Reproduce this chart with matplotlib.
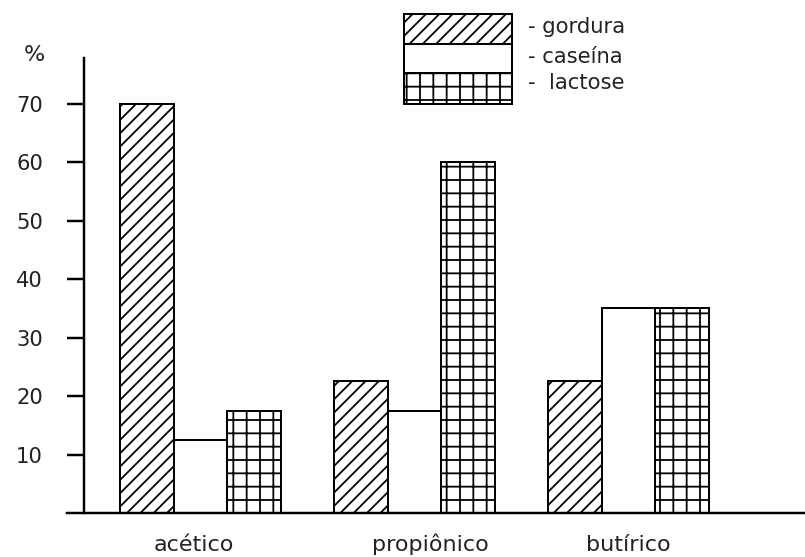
import matplotlib
matplotlib.use("Agg")
import matplotlib.pyplot as plt
from matplotlib.patches import Rectangle
import matplotlib.transforms as mtransforms
import numpy as np

categories = ["acético", "propiônico", "butírico"]
gordura = [70, 22.5, 22.5]
caseina = [12.5, 17.5, 35]
lactose = [17.5, 60, 35]
yticks = [10, 20, 30, 40, 50, 60, 70]
legend_labels = ["- gordura", "- caseína", "-  lactose"]

DPI = 80
W, H = 805, 557
plt.rcParams['font.family'] = ['DejaVu Sans']
plt.rcParams['hatch.linewidth'] = 1.6
plt.rcParams['hatch.color'] = 'black'

fig = plt.figure(figsize=(W / DPI, H / DPI), dpi=DPI)
fig.patch.set_facecolor('white')

def fx(px):
    return px / W

def fy(py):
    return 1 - py / H

ax = fig.add_axes([fx(67), fy(513), fx(805) - fx(67), fy(58) - fy(513)])
x = np.arange(len(categories))
w = 0.252
lw = 1.8
ax.bar(x - w, gordura, w, facecolor='white', edgecolor='black', hatch='//', linewidth=lw)
ax.bar(x, caseina, w, facecolor='white', edgecolor='black', linewidth=lw)
ax.bar(x + w, lactose, w, facecolor='white', edgecolor='black', hatch='+', linewidth=lw)

ax.set_xlim(-0.624, 2.825)
ax.set_ylim(0, 77.8)
ax.spines['top'].set_visible(False)
ax.spines['right'].set_visible(False)
ax.spines['left'].set_position(('data', -0.544))
ax.spines['left'].set_linewidth(2.2)
ax.spines['bottom'].set_linewidth(2.2)

ax.set_yticks(yticks)
ax.set_yticklabels([str(v) for v in yticks], fontsize=19, color='#222222')
ax.tick_params(axis='y', direction='out', length=15, width=2.2, pad=22)
ax.set_xticks(x)
ax.set_xticklabels(categories, fontsize=20, color='#222222')
ax.tick_params(axis='x', length=0, pad=34)

# small horizontal nudges of category labels (in pixels) as in the reference
label_shift_px = [-7, 16, 0]
for lab, dx in zip(ax.get_xticklabels(), label_shift_px):
    lab.set_verticalalignment('baseline')
    lab.set_transform(lab.get_transform() +
                      mtransforms.ScaledTranslation(dx / DPI, 0, fig.dpi_scale_trans))

fig.text(fx(34), fy(55), "%", fontsize=20, ha='center', va='center', color='#222222')

# legend box
lx0, lx1 = 404, 512
rows = [(14, 44, '//'), (44, 73, None), (73, 104, '+')]
for (y0, y1, h) in rows:
    r = Rectangle((fx(lx0), fy(y1)), fx(lx1) - fx(lx0), fy(y0) - fy(y1),
                  transform=fig.transFigure, facecolor='white', edgecolor='black',
                  linewidth=1.8, hatch=h)
    fig.add_artist(r)
for lab, yc in zip(legend_labels, [27, 57, 83]):
    fig.text(fx(528), fy(yc), lab, fontsize=19, ha='left', va='center', color='#222222')

fig.savefig("out.png", dpi=DPI, facecolor='white')
